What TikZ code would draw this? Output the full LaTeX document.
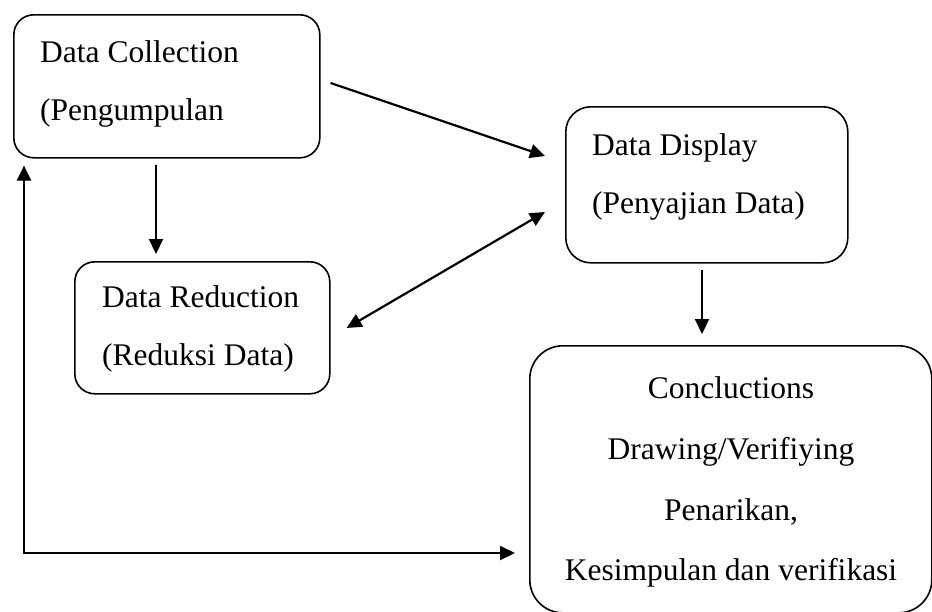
\documentclass[tikz,border=0pt]{standalone}
\usepackage{fontspec}
\setmainfont{Liberation Serif}
\usetikzlibrary{arrows.meta,calc}
\begin{document}
\begin{tikzpicture}[x=1pt,y=-1pt,
  box/.style={draw, line width=1.6pt, inner sep=0pt, anchor=north west},
  lbl/.style={font=\fontsize{31.5}{38}\selectfont, inner sep=0pt},
  arr/.style={line width=2.2pt, -{Triangle[length=15pt,width=14pt]}},
  darr/.style={line width=2.2pt, {Triangle[length=15pt,width=14pt]}-{Triangle[length=15pt,width=14pt]}}]
\useasboundingbox (0,0) rectangle (932,611);

% process boxes
\node[box, rounded corners=20pt, minimum width=306pt, minimum height=143pt] (collect) at (13,14) {};
\node[box, rounded corners=25pt, minimum width=282pt, minimum height=156pt] (display) at (565,106) {};
\node[box, rounded corners=20pt, minimum width=255pt, minimum height=132pt] (reduce) at (74,261) {};
\node[box, rounded corners=33pt, minimum width=402pt, minimum height=267pt] (concl) at (529,345) {};

% box labels
\node[lbl, anchor=base west] (c1) at (40,62) {Data Collection};
\node[lbl, anchor=base west] (c2) at (40,120) {(Pengumpulan};
\node[lbl, anchor=base west] (d1) at (592,155) {Data Display};
\node[lbl, anchor=base west] (d2) at (592,213) {(Penyajian Data)};
\node[lbl, anchor=base west] (r1) at (102,307) {Data Reduction};
\node[lbl, anchor=base west] (r2) at (102,365) {(Reduksi Data)};
\node[lbl, anchor=base] (k1) at (731,398) {Concluctions};
\node[lbl, anchor=base] (k2) at (731,459) {Drawing/Verifiying};
\node[lbl, anchor=base] (k3) at (731,520) {Penarikan,};
\node[lbl, anchor=base] (k4) at (731,580) {Kesimpulan dan verifikasi};

% connectors
\draw[arr] ($(collect.north east)+(10,69)$) -- ($(display.north west)+(-20,50)$);
\draw[arr] ($(collect.south west)+(143,6)$) -- ($(reduce.north west)+(82,-7)$);
\draw[darr] ($(reduce.north east)+(16,67)$) -- ($(display.north west)+(-20,106)$);
\draw[arr] ($(display.south west)+(137,6)$) -- ($(concl.north west)+(173,-11)$);
\draw[darr] ($(collect.south west)+(11,7)$) |- ($(concl.north west)+(-14,208)$);
\end{tikzpicture}
\end{document}
